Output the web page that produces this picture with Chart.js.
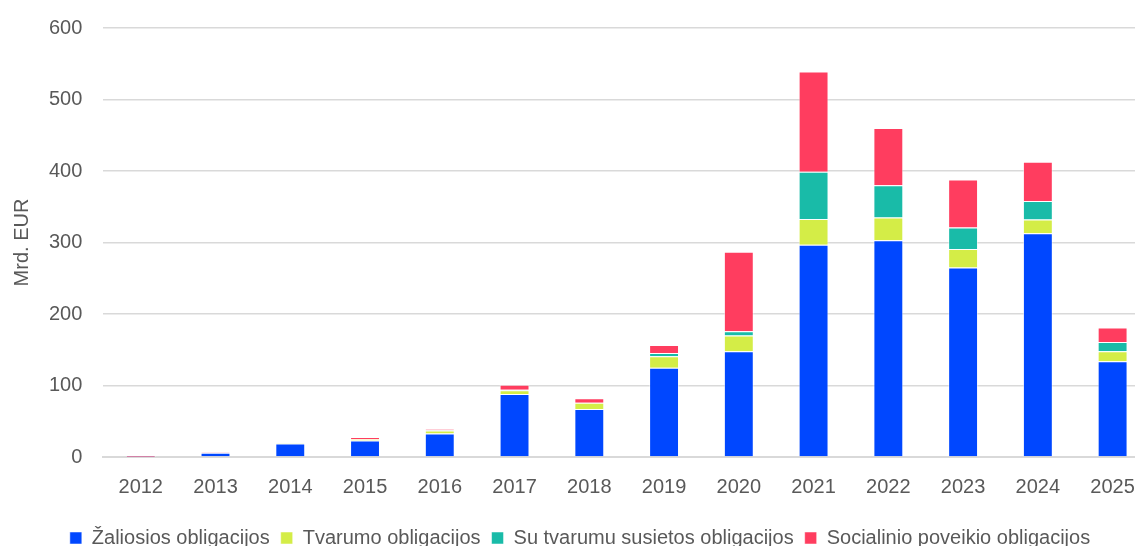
<!DOCTYPE html>
<html>
<head>
<meta charset="utf-8">
<script src="https://cdn.jsdelivr.net/npm/chart.js@4"></script>
<style>
  html, body { margin:0; padding:0; background:#fff; overflow:hidden; }
  #wrap { width:1168px; height:551px; position:relative; top:-5px; }
</style>
</head>
<body>
<div id="wrap"><canvas id="c"></canvas></div>
<script>
// Metinės emisijos, mlrd. EUR (nuskaityta nuo grafiko)
const metai = ['2012','2013','2014','2015','2016','2017','2018','2019','2020','2021','2022','2023','2024','2025'];
const zaliosios = [0.5, 6, 19, 23, 33, 88, 67, 125, 148, 297, 303, 265, 313, 134];
const tvarumo   = [0, 0, 0.5, 2, 4, 5.5, 9, 16, 22, 36, 32, 26, 19, 14];
const susietos  = [0, 0, 0, 0, 0.5, 0.5, 0, 4.5, 6, 66, 45, 30, 26, 13];
const socialinio= [1.5, 0.5, 0.5, 3, 1.5, 7, 6, 11, 111, 140, 80, 67, 55, 20];
const yTicks = [0, 100, 200, 300, 400, 500, 600];

const grey = '#595959';
const font = { family:'Liberation Sans, Arial, sans-serif', size:20 };

function ds(label, data, color){
  return { label, data, backgroundColor:color, borderColor:'rgba(255,255,255,0.5)', borderWidth:1,
           barPercentage:0.4, categoryPercentage:1 };
}

new Chart(document.getElementById('c'), {
  type:'bar',
  data:{
    labels: metai,
    datasets:[
      ds('Žaliosios obligacijos', zaliosios, '#0047FF'),
      ds('Tvarumo obligacijos', tvarumo, '#D4ED47'),
      ds('Su tvarumu susietos obligacijos', susietos, '#19BBA8'),
      ds('Socialinio poveikio obligacijos', socialinio, '#FF3D5F')
    ]
  },
  options:{
    responsive:true, maintainAspectRatio:false, animation:false,
    layout:{ padding:{ top:0, right:18, left:10, bottom:-12 } },
    plugins:{
      tooltip:{ enabled:false },
      legend:{
        position:'bottom',
        labels:{ color:grey, font, boxWidth:12, boxHeight:12, padding:11 }
      }
    },
    scales:{
      x:{
        stacked:true,
        grid:{ display:false, drawTicks:false },
        border:{ color:'#d9d9d9', width:2 },
        ticks:{ color:grey, font, padding:18, maxRotation:0 }
      },
      y:{
        stacked:true, min:0, max:600,
        afterBuildTicks: ax => { ax.ticks = yTicks.map(v => ({ value:v })); },
        grid:{ color:'#d9d9d9', lineWidth:1.5, drawTicks:false },
        border:{ display:false },
        ticks:{ color:grey, font, padding:21 },
        title:{ display:true, text:'Mrd. EUR', color:grey, font, padding:{ top:0, bottom:-6 } }
      }
    }
  }
});
</script>
</body>
</html>
